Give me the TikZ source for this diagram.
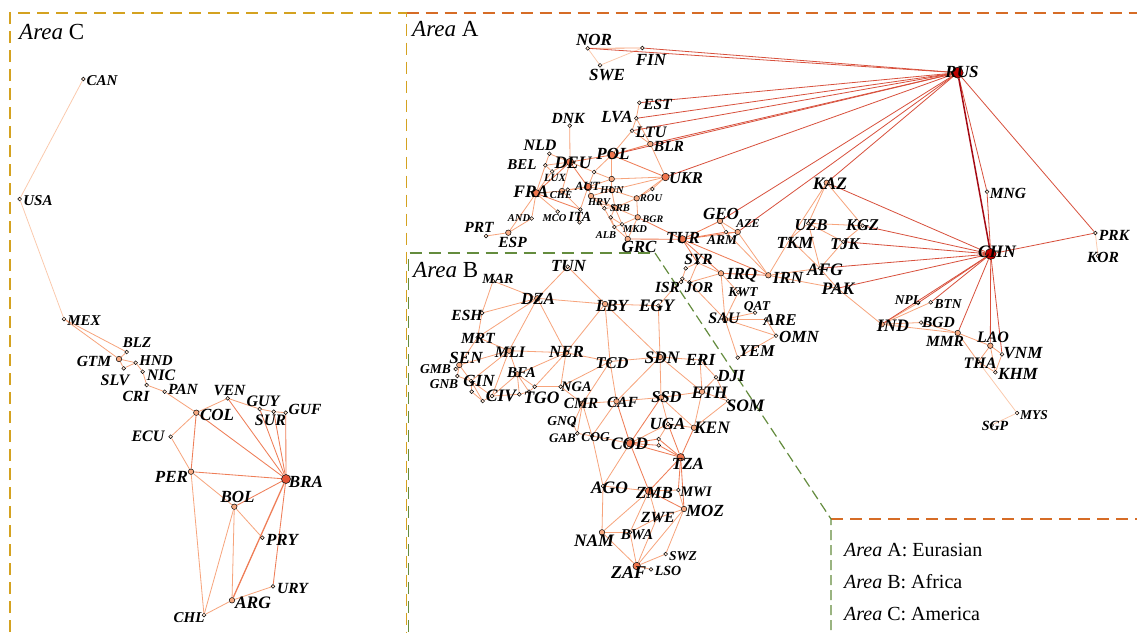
\documentclass[tikz,border=0pt]{standalone}
\usepackage{fontspec}
\setmainfont{Liberation Serif}
\pgfdeclarelayer{edges}
\pgfdeclarelayer{back}
\pgfsetlayers{back,edges,main}
\definecolor{eone}{RGB}{251,200,170}
\definecolor{etwo}{RGB}{247,164,124}
\definecolor{ethree}{RGB}{239,126,88}
\definecolor{efour}{RGB}{216,80,60}
\definecolor{efive}{RGB}{165,10,20}
\definecolor{nS}{RGB}{253,226,208}
\definecolor{nM}{RGB}{247,170,130}
\definecolor{nL}{RGB}{240,118,78}
\definecolor{nB}{RGB}{228,82,52}
\definecolor{nX}{RGB}{190,0,0}
\definecolor{colA}{RGB}{214,108,38}
\definecolor{colB}{RGB}{100,140,62}
\definecolor{colC}{RGB}{212,162,32}
\tikzset{
  dot/.style={circle,draw=black,line width=0.5pt,inner sep=0pt},
  dS/.style={dot,minimum size=3.8pt,fill=nS},
  dM/.style={dot,minimum size=5.5pt,fill=nM},
  dL/.style={dot,minimum size=7.5pt,fill=nL},
  dB/.style={dot,minimum size=9pt,fill=nB},
  dX/.style={dot,minimum size=11pt,fill=nX},
  lab/.style={inner sep=0pt,font=\bfseries\itshape},
  eA/.style={draw=eone,line width=0.75pt},
  eB/.style={draw=etwo,line width=0.8pt},
  eC/.style={draw=ethree,line width=0.85pt},
  eD/.style={draw=efour,line width=0.8pt},
  eE/.style={draw=efive,line width=1.5pt},
  arealine/.style={line width=1.5pt,dash pattern=on 12pt off 7pt},
}
\newcommand\Dt[4]{\node[d#4] (#1) at (#2,#3) {};}
\newcommand\Lbl[4]{\node[lab] (l#1) at (#2,#3) {\fontsize{#4}{#4}\selectfont #1};}
\newcommand\Edg[2]{\foreach \a/\b in {#2} {\draw[#1] (\a) -- (\b);}}
\begin{document}
\begin{tikzpicture}[x=1pt,y=-1pt]
\useasboundingbox (0,0) rectangle (1137,632);
\begin{pgfonlayer}{back}
\fill[white] (0,0) rectangle (1137,632);
\end{pgfonlayer}
% area boundaries
\draw[arealine,colC] (10,632) -- (10,13) -- (406.5,13) -- (406.5,632);
\draw[arealine,colA] (406.5,13) -- (1137,13);
\draw[arealine,colA] (831,519) -- (1137,519);
\draw[arealine,colB] (408.5,632) -- (408.5,253) -- (655,253);
\draw[colB,line width=1.2pt,dash pattern=on 10pt off 5pt] (655,253) -- (831,519) -- (831,632);
\node[anchor=base west,inner sep=0pt,font=\fontsize{23}{23}\selectfont] (areaC) at (19,39) {\textit{Area} C};
\node[anchor=base west,inner sep=0pt,font=\fontsize{23}{23}\selectfont] (areaA) at (412,36) {\textit{Area} A};
\node[anchor=base west,inner sep=0pt,font=\fontsize{23}{23}\selectfont] (areaB) at (413,277) {\textit{Area} B};
\node[anchor=base west,inner sep=0pt,font=\fontsize{20}{20}\selectfont] (legA) at (844,556) {\textit{Area} A: Eurasian};
\node[anchor=base west,inner sep=0pt,font=\fontsize{20}{20}\selectfont] (legB) at (844,588) {\textit{Area} B: Africa};
\node[anchor=base west,inner sep=0pt,font=\fontsize{20}{20}\selectfont] (legC) at (844,620) {\textit{Area} C: America};
% ---- nodes: Americas
\Dt{CAN}{83.3}{79}{S}
\Dt{USA}{19.7}{199}{S}
\Dt{MEX}{64}{319}{S}
\Dt{BLZ}{126.7}{352}{S}
\Dt{GTM}{119}{359}{M}
\Dt{HND}{135.7}{362.7}{S}
\Dt{SLV}{123.7}{368.3}{S}
\Dt{NIC}{142.7}{371.7}{S}
\Dt{CRI}{146.7}{385}{S}
\Dt{PAN}{164.7}{391.7}{S}
\Dt{VEN}{227.7}{398.3}{S}
\Dt{GUY}{259.7}{409}{S}
\Dt{SUR}{273.7}{411.7}{S}
\Dt{GUF}{285.7}{412.7}{S}
\Dt{COL}{196.3}{412.7}{M}
\Dt{ECU}{170.7}{436.7}{S}
\Dt{PER}{191}{471.7}{M}
\Dt{BRA}{286}{479}{B}
\Dt{BOL}{234.3}{506.7}{M}
\Dt{PRY}{262.3}{537.7}{S}
\Dt{URY}{273}{586.3}{S}
\Dt{ARG}{232}{600.3}{M}
\Dt{CHL}{204}{615}{S}
% ---- Europe
\Dt{NOR}{587.7}{48.3}{S}
\Dt{FIN}{642.3}{48}{S}
\Dt{SWE}{600}{65.3}{S}
\Dt{EST}{639.3}{102.7}{S}
\Dt{LVA}{636.3}{118.3}{S}
\Dt{LTU}{632}{130.7}{S}
\Dt{BLR}{650.3}{144}{M}
\Dt{POL}{611.7}{155}{L}
\Dt{DNK}{569.7}{125.7}{S}
\Dt{NLD}{549.3}{153.7}{S}
\Dt{BEL}{545.3}{165.3}{S}
\Dt{DEU}{570}{162}{L}
\Dt{LUX}{552}{171.5}{S}
\Dt{FRA}{536}{193.3}{L}
\Dt{CHE}{562}{191}{M}
\Dt{LIE}{567.7}{189.7}{S}
\Dt{AUT}{588}{187}{L}
\Dt{CZE}{594}{172}{S}
\Dt{SVK}{611.7}{179}{M}
\Dt{HUN}{611.7}{190}{M}
\Dt{UKR}{665.5}{177}{L}
\Dt{MDA}{652.3}{189}{S}
\Dt{ROU}{636.7}{198.3}{M}
\Dt{HRV}{591}{196}{M}
\Dt{BIH}{598.7}{203}{S}
\Dt{SRB}{615}{207.7}{M}
\Dt{MNE}{604.3}{208.3}{S}
\Dt{KOS}{610.7}{217.3}{S}
\Dt{ALB}{614.3}{227}{S}
\Dt{MKD}{622}{224.3}{S}
\Dt{BGR}{637.7}{217.3}{M}
\Dt{GRC}{627.7}{239}{M}
\Dt{ITA}{580.3}{209.5}{S}
\Dt{SMR}{579.5}{222.3}{S}
\Dt{MCO}{557.7}{211.7}{S}
\Dt{AND}{531.7}{218.5}{S}
\Dt{ESP}{508.3}{232.7}{M}
\Dt{PRT}{486}{236}{S}
\Dt{RUS}{957.7}{72.7}{X}
% ---- Middle East / Asia
\Dt{GEO}{720}{221}{M}
\Dt{AZE}{737.7}{232}{M}
\Dt{ARM}{726}{232}{S}
\Dt{TUR}{682.3}{239.3}{L}
\Dt{SYR}{697.5}{262.7}{S}
\Dt{LBN}{685.7}{268.3}{S}
\Dt{ISR}{682.3}{278.7}{S}
\Dt{PSE}{681}{282}{S}
\Dt{JOR}{689.3}{282.3}{S}
\Dt{IRQ}{721}{273.3}{M}
\Dt{IRN}{768.3}{275.3}{M}
\Dt{KWT}{738.3}{292.3}{S}
\Dt{QAT}{755}{312.7}{S}
\Dt{SAU}{725}{319.3}{M}
\Dt{ARE}{766}{319.3}{S}
\Dt{OMN}{776}{335.7}{S}
\Dt{YEM}{737.7}{357.7}{S}
\Dt{EGY}{658.3}{305.7}{S}
\Dt{KAZ}{826.7}{182.7}{M}
\Dt{UZB}{808.3}{223.3}{S}
\Dt{KGZ}{862.7}{225.7}{S}
\Dt{TKM}{790}{239}{S}
\Dt{TJK}{843.3}{241.7}{S}
\Dt{AFG}{820}{268.3}{S}
\Dt{PAK}{837.3}{288.3}{S}
\Dt{IND}{881.7}{324.3}{M}
\Dt{NPL}{918}{303}{S}
\Dt{BTN}{930.7}{302.3}{S}
\Dt{BGD}{921}{322.5}{S}
\Dt{MMR}{957.7}{333}{M}
\Dt{LAO}{990.3}{345.7}{M}
\Dt{VNM}{1002}{354.3}{S}
\Dt{THA}{978.3}{361.7}{S}
\Dt{KHM}{995.3}{372.3}{S}
\Dt{MYS}{1017}{413}{S}
\Dt{SGP}{991.7}{425}{S}
\Dt{CHN}{990.7}{254}{X}
\Dt{MNG}{987}{191.7}{S}
\Dt{PRK}{1095.3}{233}{S}
\Dt{KOR}{1098}{256}{S}
% ---- Africa
\Dt{TUN}{567.7}{266.7}{S}
\Dt{MAR}{493}{281}{S}
\Dt{DZA}{537.3}{298.3}{M}
\Dt{ESH}{482}{313}{S}
\Dt{LBY}{605}{304}{M}
\Dt{MRT}{477.7}{337.3}{S}
\Dt{MLI}{509}{350.7}{M}
\Dt{NER}{566}{352.7}{M}
\Dt{SEN}{459.3}{365}{M}
\Dt{GMB}{455.7}{369}{S}
\Dt{GNB}{457.3}{376}{S}
\Dt{GIN}{471}{381}{S}
\Dt{SLE}{471.7}{391.7}{S}
\Dt{LBR}{482.7}{401}{S}
\Dt{CIV}{492}{396}{S}
\Dt{BFA}{517.3}{374.3}{M}
\Dt{GHA}{519.3}{394.3}{S}
\Dt{TGO}{529}{391.7}{S}
\Dt{BEN}{534.7}{386.7}{S}
\Dt{NGA}{560.7}{386.7}{S}
\Dt{TCD}{610}{361.5}{S}
\Dt{SDN}{660}{357}{M}
\Dt{CMR}{582.5}{403.5}{M}
\Dt{CAF}{616.5}{401.3}{M}
\Dt{SSD}{661}{397.5}{M}
\Dt{ERI}{700}{360}{S}
\Dt{DJI}{716}{377.3}{S}
\Dt{ETH}{702}{391.7}{M}
\Dt{SOM}{728}{401}{S}
\Dt{GNQ}{573.3}{424}{S}
\Dt{GAB}{577.3}{433.3}{S}
\Dt{COG}{592}{436}{S}
\Dt{COD}{630}{443.3}{L}
\Dt{UGA}{668}{424}{S}
\Dt{KEN}{694}{427.7}{M}
\Dt{RWA}{658.7}{439}{S}
\Dt{BDI}{658.7}{445.3}{S}
\Dt{TZA}{680.7}{457.3}{L}
\Dt{AGO}{603}{486}{S}
\Dt{ZMB}{649}{491}{L}
\Dt{MWI}{678.3}{490}{S}
\Dt{MOZ}{684}{509}{M}
\Dt{ZWE}{656.7}{518.3}{S}
\Dt{BWA}{630}{532.3}{S}
\Dt{NAM}{602}{532.3}{M}
\Dt{SWZ}{665.7}{554}{S}
\Dt{ZAF}{636.7}{566}{L}
\Dt{LSO}{651}{569.3}{S}
% ---- edges
\begin{pgfonlayer}{edges}
\Edg{eA}{CAN/USA,USA/MEX,NOR/SWE,SWE/FIN,KOR/PRK,THA/MYS,MYS/SGP}
\Edg{eB}{MEX/GTM,MEX/BLZ,GTM/BLZ,GTM/HND,GTM/SLV,HND/SLV,HND/NIC,NIC/CRI,CRI/PAN,PAN/COL,COL/VEN,COL/ECU,VEN/GUY,GUY/SUR,SUR/GUF,ECU/PER,PER/BOL,PER/CHL,BOL/PRY,BOL/ARG,BOL/CHL,ARG/URY,ARG/CHL}
\Edg{eB}{NOR/FIN,EST/LVA,LVA/LTU,LVA/BLR,LTU/POL,LTU/BLR,BLR/UKR,POL/CZE,POL/SVK,DEU/DNK,DEU/NLD,DEU/BEL,DEU/LUX,DEU/CHE,DEU/CZE,NLD/BEL,BEL/FRA,BEL/LUX,LUX/FRA,FRA/CHE,FRA/ESP,FRA/AND,FRA/MCO,ESP/PRT,ESP/AND,CHE/ITA,CHE/AUT,CHE/LIE,LIE/AUT,AUT/ITA,AUT/HUN,AUT/CZE,AUT/SVK,AUT/HRV,HUN/HRV,HRV/BIH,HRV/SRB,BIH/SRB,BIH/MNE,MNE/SRB,MNE/ALB,KOS/SRB,KOS/ALB,KOS/MKD,ALB/MKD,ALB/GRC,MKD/GRC,MKD/SRB,MKD/BGR,SRB/BGR,SRB/ROU,SRB/HUN,HUN/SVK,HUN/ROU,HUN/UKR,SVK/UKR,SVK/CZE,ROU/UKR,ROU/MDA,MDA/UKR,ROU/BGR,BGR/GRC,ITA/SMR}
\Edg{eB}{GEO/ARM,GEO/AZE,ARM/AZE,ARM/IRN,AZE/IRN,IRN/TKM,IRN/AFG,IRN/PAK,IRQ/SYR,IRQ/JOR,IRQ/KWT,IRQ/SAU,SYR/LBN,SYR/JOR,LBN/ISR,ISR/JOR,ISR/PSE,ISR/EGY,JOR/SAU,SAU/KWT,SAU/QAT,SAU/ARE,SAU/OMN,SAU/YEM,ARE/OMN,YEM/OMN,EGY/LBY,EGY/SDN}
\Edg{eB}{KAZ/UZB,KAZ/TKM,KAZ/KGZ,UZB/KGZ,UZB/TJK,UZB/TKM,UZB/AFG,TKM/AFG,TJK/AFG,TJK/KGZ,AFG/PAK,PAK/IND,IND/NPL,IND/BTN,IND/BGD,IND/MMR,BGD/MMR,MMR/LAO,MMR/THA,LAO/THA,LAO/VNM,LAO/KHM,THA/KHM,VNM/KHM}
\Edg{eB}{MAR/DZA,MAR/ESH,ESH/MRT,ESH/DZA,DZA/MRT,DZA/TUN,TUN/LBY,DZA/MLI,DZA/NER,DZA/LBY,LBY/NER,LBY/TCD,LBY/SDN,MRT/MLI,MRT/SEN,SEN/MLI,SEN/GMB,SEN/GNB,SEN/GIN,GIN/GNB,GIN/MLI,GIN/SLE,GIN/LBR,GIN/CIV,SLE/LBR,LBR/CIV,CIV/MLI,CIV/BFA,CIV/GHA,MLI/BFA,MLI/NER,BFA/GHA,BFA/TGO,BFA/BEN,BFA/NER,GHA/TGO,TGO/BEN,BEN/NGA,BEN/NER,NER/NGA,NER/TCD,NGA/TCD,NGA/CMR,TCD/CMR,TCD/CAF,TCD/SDN,CMR/CAF,CMR/GNQ,CMR/GAB,CMR/COG,GAB/GNQ,GAB/COG,CAF/COG,CAF/SSD,CAF/SDN,SDN/SSD,SDN/ERI,SDN/ETH,SSD/ETH,SSD/KEN,SSD/UGA,ERI/ETH,ERI/DJI,DJI/ETH,DJI/SOM,ETH/SOM,ETH/KEN,KEN/SOM,KEN/UGA,UGA/RWA,UGA/COD,RWA/BDI,COD/COG,COD/AGO,AGO/ZMB,AGO/NAM,AGO/COG,ZMB/MWI,ZMB/ZWE,ZMB/NAM,ZMB/BWA,MWI/MOZ,MOZ/ZWE,MOZ/SWZ,ZWE/BWA,ZWE/ZAF,NAM/BWA,NAM/ZAF,BWA/ZAF,ZAF/SWZ,ZAF/LSO,MOZ/ZAF}
\Edg{eC}{COL/PER,COL/BRA,VEN/BRA,GUY/BRA,SUR/BRA,GUF/BRA,PER/BRA,BOL/BRA,BRA/URY,POL/BLR,POL/UKR,POL/DEU,DEU/FRA,DEU/AUT,FRA/ITA,BGR/TUR,GRC/TUR,TUR/GEO,TUR/ARM,TUR/AZE,TUR/IRN,TUR/IRQ,TUR/SYR,IRN/IRQ,COD/CAF,COD/SSD,COD/RWA,COD/BDI,COD/TZA,COD/ZMB,KEN/TZA,UGA/TZA,RWA/TZA,BDI/TZA,TZA/ZMB,TZA/MWI,TZA/MOZ,ZMB/MOZ}
\draw[eC,line width=1.3pt] (BRA) -- (ARG);
\Edg{eD}{RUS/NOR,RUS/FIN,RUS/EST,RUS/LVA,RUS/LTU,RUS/BLR,RUS/POL,RUS/UKR,RUS/GEO,RUS/AZE,RUS/KAZ,RUS/MNG,RUS/PRK,CHN/KAZ,CHN/KGZ,CHN/TJK,CHN/AFG,CHN/PAK,CHN/IND,CHN/NPL,CHN/BTN,CHN/MMR,CHN/LAO,CHN/VNM,CHN/MNG,CHN/PRK}
\draw[eE] (RUS) -- (CHN);
\end{pgfonlayer}
% ---- labels: Americas
\Lbl{CAN}{102}{80.5}{15}
\Lbl{USA}{38}{201}{15}
\Lbl{MEX}{84}{321}{15}
\Lbl{BLZ}{137}{343}{15}
\Lbl{GTM}{94}{361.5}{15.5}
\Lbl{HND}{156}{361}{15}
\Lbl{SLV}{115}{380}{16}
\Lbl{NIC}{161}{375}{16}
\Lbl{CRI}{136}{396}{15.5}
\Lbl{PAN}{183}{389.5}{15.5}
\Lbl{VEN}{229.5}{390.5}{15.5}
\Lbl{GUY}{263}{401}{16}
\Lbl{SUR}{270.5}{420.5}{16}
\Lbl{GUF}{305}{409.5}{15.5}
\Lbl{COL}{217}{415}{17}
\Lbl{ECU}{148}{436.5}{16}
\Lbl{PER}{171.5}{477}{17}
\Lbl{BRA}{306}{481.5}{17}
\Lbl{BOL}{237.5}{497}{17}
\Lbl{PRY}{282}{539.5}{17}
\Lbl{URY}{292.5}{588.5}{15.5}
\Lbl{ARG}{253}{603}{17.5}
\Lbl{CHL}{189}{617.5}{15}
% Europe
\Lbl{NOR}{594}{40}{17}
\Lbl{FIN}{651}{59.5}{17}
\Lbl{SWE}{607}{75}{17}
\Lbl{EST}{657.5}{104.7}{15.5}
\Lbl{LVA}{617}{116.7}{17}
\Lbl{LTU}{651}{132}{16}
\Lbl{BLR}{669}{146}{15.5}
\Lbl{POL}{613}{154}{17}
\Lbl{DNK}{568}{118}{15.5}
\Lbl{NLD}{540}{145}{16}
\Lbl{BEL}{522}{165}{15}
\Lbl{DEU}{573}{162.5}{17.5}
\Lbl{LUX}{555}{178}{11}
\Lbl{FRA}{531}{192}{17.5}
\Lbl{CHE}{561}{195.5}{10.5}
\Lbl{AUT}{587.5}{186}{12.5}
\Lbl{HUN}{612}{190.5}{10.5}
\Lbl{ROU}{651}{198.5}{10.5}
\Lbl{HRV}{599}{202}{10.5}
\Lbl{SRB}{620}{208.5}{10.5}
\Lbl{BGR}{653}{219.5}{10}
\Lbl{MKD}{635}{229}{10.5}
\Lbl{ALB}{606}{235}{10.5}
\Lbl{AND}{519}{218.5}{10.5}
\Lbl{MCO}{554.5}{218}{10.5}
\Lbl{ITA}{580}{217}{14}
\Lbl{ESP}{512.5}{242}{15.5}
\Lbl{PRT}{479}{227}{15.5}
\Lbl{GRC}{639}{247}{17}
\Lbl{UKR}{686}{178}{16.5}
\Lbl{RUS}{962}{72}{17}
% Middle East / Asia
\Lbl{GEO}{721}{213.5}{17}
\Lbl{AZE}{748}{224}{12}
\Lbl{ARM}{722}{240.5}{13.5}
\Lbl{TUR}{683}{238}{17}
\Lbl{SYR}{698.5}{259}{15.5}
\Lbl{IRQ}{742}{275.5}{17}
\Lbl{IRN}{788}{277.5}{17}
\Lbl{ISR}{667.5}{287}{15.5}
\Lbl{JOR}{699}{287.5}{15}
\Lbl{KWT}{743}{292}{13.5}
\Lbl{QAT}{757}{307}{13.5}
\Lbl{SAU}{724}{318}{16}
\Lbl{ARE}{780}{320}{16.5}
\Lbl{OMN}{799}{337}{17}
\Lbl{YEM}{757}{351}{16.5}
\Lbl{KAZ}{830}{184}{17.5}
\Lbl{UZB}{811}{225}{16.5}
\Lbl{KGZ}{862.5}{225}{16.5}
\Lbl{TKM}{795}{243}{17}
\Lbl{TJK}{845}{244.5}{16.5}
\Lbl{AFG}{825}{269.5}{17.5}
\Lbl{PAK}{838}{289}{17.5}
\Lbl{CHN}{997}{252}{17.5}
\Lbl{MNG}{1008}{193.5}{15.5}
\Lbl{PRK}{1114}{235}{15.5}
\Lbl{KOR}{1103}{257}{15.5}
\Lbl{NPL}{908}{300.5}{13.5}
\Lbl{BTN}{948}{304}{13.5}
\Lbl{BGD}{938.5}{322.5}{15.5}
\Lbl{IND}{893}{326}{17.5}
\Lbl{MMR}{945}{341.5}{15.5}
\Lbl{LAO}{993}{337.5}{16}
\Lbl{VNM}{1023}{353.5}{17}
\Lbl{THA}{980}{363}{16}
\Lbl{KHM}{1018}{374}{17}
\Lbl{MYS}{1034}{415.5}{13.5}
\Lbl{SGP}{995}{426}{14}
% Africa
\Lbl{TUN}{568.5}{266.5}{17}
\Lbl{MAR}{498}{278.5}{14}
\Lbl{DZA}{538}{299}{17}
\Lbl{ESH}{467}{315}{15.5}
\Lbl{LBY}{612}{306}{17}
\Lbl{EGY}{656.5}{306}{17.5}
\Lbl{MRT}{478}{338.5}{15.5}
\Lbl{MLI}{510}{352}{16}
\Lbl{NER}{566.5}{352}{17}
\Lbl{SEN}{466}{357.5}{17}
\Lbl{GMB}{435.5}{369}{13.5}
\Lbl{GNB}{444}{384.5}{13.5}
\Lbl{GIN}{479}{381}{17}
\Lbl{CIV}{501}{396}{17.5}
\Lbl{BFA}{521.5}{372.5}{15}
\Lbl{TGO}{541.5}{398}{17.5}
\Lbl{NGA}{576.5}{386.5}{14.5}
\Lbl{TCD}{612}{363}{16.5}
\Lbl{SDN}{662}{357.5}{17.5}
\Lbl{CMR}{581}{403.5}{15.5}
\Lbl{CAF}{622.5}{402.5}{15.5}
\Lbl{SSD}{666.5}{397.5}{16.5}
\Lbl{ERI}{700.5}{359.5}{17}
\Lbl{DJI}{731}{376.5}{17}
\Lbl{ETH}{709.5}{393}{17.5}
\Lbl{SOM}{745.5}{405.5}{17.5}
\Lbl{GNQ}{562}{422}{13.5}
\Lbl{GAB}{562.5}{438.5}{13}
\Lbl{COG}{595.5}{437}{13.5}
\Lbl{COD}{629.5}{444}{17.5}
\Lbl{UGA}{667.5}{423.5}{17}
\Lbl{KEN}{712}{428}{17.5}
\Lbl{TZA}{688}{463.5}{17}
\Lbl{AGO}{609.5}{488}{17.5}
\Lbl{ZMB}{654.5}{493}{17}
\Lbl{MWI}{696}{492}{14.5}
\Lbl{MOZ}{705}{511}{17}
\Lbl{ZWE}{658}{517.5}{15.5}
\Lbl{BWA}{637}{535}{15}
\Lbl{NAM}{594}{540.5}{17.5}
\Lbl{SWZ}{683}{556.5}{13.5}
\Lbl{ZAF}{628.5}{573}{18}
\Lbl{LSO}{668}{571}{14}
\end{tikzpicture}
\end{document}
